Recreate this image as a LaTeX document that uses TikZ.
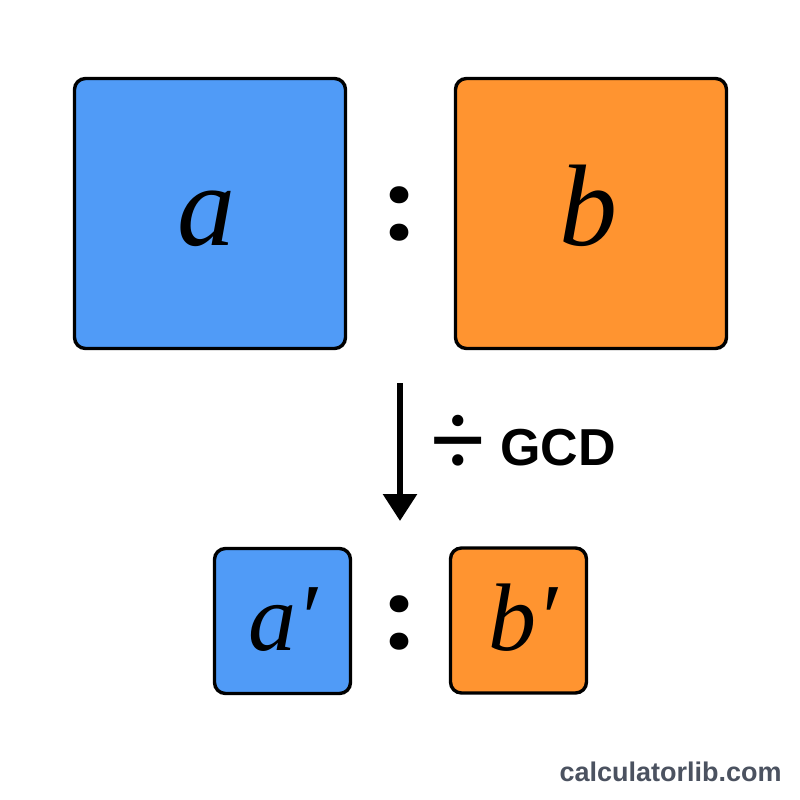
\documentclass[tikz,border=0pt]{standalone}
\usepackage{fontspec}
\setmainfont{Liberation Serif}
\newfontfamily\lsans{Liberation Sans}
\newfontfamily\popfont{Poppins}
\usetikzlibrary{arrows.meta}
\definecolor{boxblue}{RGB}{80,155,247}
\definecolor{boxorange}{RGB}{255,148,48}
\definecolor{markgray}{RGB}{75,82,96}
\begin{document}
\begin{tikzpicture}[x=0.5pt,y=-0.5pt,
  box/.style={draw=black, line width=1.7pt, rounded corners=5.5pt, inner sep=0pt},
  bigbox/.style={box, minimum width=135.5pt, minimum height=135pt},
  smallbox/.style={box, minimum width=68pt, minimum height=72.5pt},
  biglabel/.style={inner sep=0pt, anchor=base, font=\fontsize{58}{60}\selectfont\itshape},
  smalllabel/.style={inner sep=0pt, anchor=base, font=\fontsize{48}{50}\selectfont\itshape},
  ratiocolon/.style={inner sep=0pt, font=\popfont\bfseries\fontsize{46}{50}\selectfont},
  gcdlabel/.style={inner sep=0pt, anchor=base west, font=\lsans\bfseries\fontsize{26}{28}\selectfont},
  divsign/.style={inner sep=0pt, font=\popfont\fontsize{46}{48}\selectfont},
  watermark/.style={inner sep=0pt, anchor=base east, text=markgray, font=\lsans\bfseries\fontsize{13.5}{15}\selectfont},
  flow/.style={line width=3pt, -{Triangle[length=13.5pt,width=16.5pt]}}
]
\fill[white] (0,0) rectangle (800,800);
\useasboundingbox (0,0) rectangle (800,800);

% top row
\node[bigbox, fill=boxblue] (A) at (210,213.5) {};
\node[bigbox, fill=boxorange] (B) at (591,213.5) {};
\node[biglabel] (la) at (206,245) {a};
\node[biglabel] (lb) at (588,245) {b};
\node[ratiocolon] (c1) at (400,213.5) {:};

% arrow
\coordinate (s) at (400,383);
\coordinate (e) at (400,521);
\draw[flow] (s) -- (e);
\node[divsign] (div) at (457.5,445) {÷};
\node[gcdlabel] (gcd) at (500,465) {GCD};

% bottom row
\node[smallbox, fill=boxblue] (A2) at (282.5,621) {};
\node[smallbox, fill=boxorange] (B2) at (518.5,620.5) {};
\node[smalllabel] (la2) at (283,650) {a′};
\node[smalllabel] (lb2) at (523,650) {b′};
\node[ratiocolon] (c2) at (400,622.5) {:};

% watermark
\node[watermark] (wm) at (782,781) {calculatorlib.com};
\end{tikzpicture}
\end{document}
